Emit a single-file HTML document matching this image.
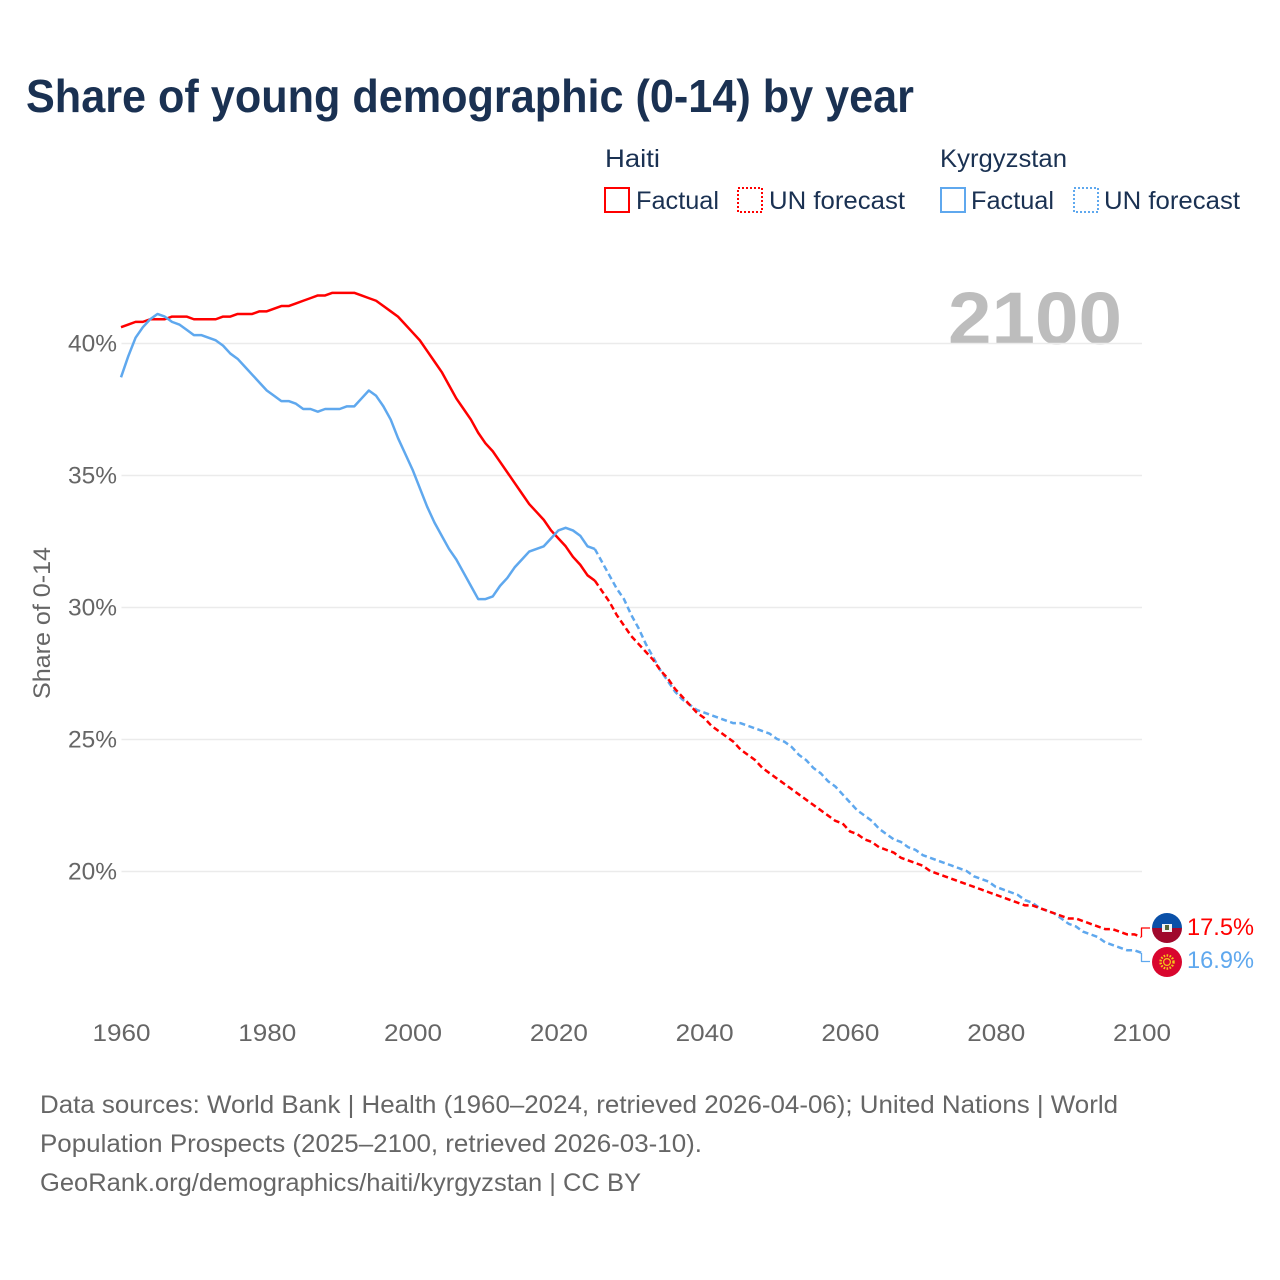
<!DOCTYPE html>
<html lang="en">
<head>
<meta charset="utf-8">
<title>Share of young demographic (0-14) by year</title>
<style>
html,body{margin:0;padding:0;background:#fff;}
svg{display:block;font-family:"Liberation Sans",Arial,sans-serif;}
</style>
</head>
<body>
<svg id="chart" xmlns="http://www.w3.org/2000/svg" width="1280" height="1280" viewBox="0 0 1280 1280">
  <rect width="1280" height="1280" fill="#ffffff"/>
  <text x="26" y="112" font-size="46" font-weight="700" fill="#1a3152" textLength="888" lengthAdjust="spacingAndGlyphs">Share of young demographic (0-14) by year</text>

  <g font-size="25" fill="#1a3152">
    <text x="605" y="167" textLength="55" lengthAdjust="spacingAndGlyphs">Haiti</text>
    <text x="940" y="167" textLength="127" lengthAdjust="spacingAndGlyphs">Kyrgyzstan</text>
    <rect x="605" y="188" width="24" height="24" fill="none" stroke="#ff0000" stroke-width="2"/>
    <text x="636" y="209" textLength="83" lengthAdjust="spacingAndGlyphs">Factual</text>
    <rect x="738" y="188" width="24" height="24" fill="none" stroke="#ff0000" stroke-width="2" stroke-dasharray="2 2"/>
    <text x="769" y="209" textLength="136" lengthAdjust="spacingAndGlyphs">UN forecast</text>
    <rect x="941" y="188" width="24" height="24" fill="none" stroke="#5fa8ee" stroke-width="2"/>
    <text x="971" y="209" textLength="83" lengthAdjust="spacingAndGlyphs">Factual</text>
    <rect x="1074" y="188" width="24" height="24" fill="none" stroke="#5fa8ee" stroke-width="2" stroke-dasharray="2 2"/>
    <text x="1104" y="209" textLength="136" lengthAdjust="spacingAndGlyphs">UN forecast</text>
  </g>

  <text x="948" y="344" font-size="74" font-weight="700" fill="#bdbdbd" textLength="174" lengthAdjust="spacingAndGlyphs">2100</text>
  <g id="grid"></g>
  <g id="yticks" font-size="24" fill="#666666"></g>
  <g id="xticks" font-size="24" fill="#666666"></g>
  <text transform="translate(50,623) rotate(-90)" text-anchor="middle" font-size="24" fill="#666666" textLength="152" lengthAdjust="spacingAndGlyphs">Share of 0-14</text>
  <g id="series" fill="none" stroke-width="2.5" stroke-linejoin="round"></g>

  <g>
    <clipPath id="clip-haiti"><circle cx="1167" cy="928" r="15"/></clipPath>
    <g clip-path="url(#clip-haiti)">
      <rect x="1152" y="913" width="30" height="15" fill="#0a50a8"/>
      <rect x="1152" y="928" width="30" height="15" fill="#a0082c"/>
      <rect x="1162" y="924" width="10" height="8" fill="#f2f2f2"/>
      <rect x="1165" y="925" width="4" height="5" fill="#55683c"/>
    </g>
  </g>
  <g>
    <circle cx="1167" cy="962" r="15" fill="#d9062e"/>
    <circle cx="1167" cy="962" r="6.5" fill="none" stroke="#f5c71a" stroke-width="2.4" stroke-dasharray="1.6 1.4"/>
    <circle cx="1167" cy="962" r="3.4" fill="none" stroke="#f5c71a" stroke-width="1.2"/>
  </g>

  <g font-size="25" fill="#666666">
    <text x="40" y="1113" textLength="1078" lengthAdjust="spacingAndGlyphs">Data sources: World Bank | Health (1960–2024, retrieved 2026-04-06); United Nations | World</text>
    <text x="40" y="1152" textLength="662" lengthAdjust="spacingAndGlyphs">Population Prospects (2025–2100, retrieved 2026-03-10).</text>
    <text x="40" y="1191" textLength="601" lengthAdjust="spacingAndGlyphs">GeoRank.org/demographics/haiti/kyrgyzstan | CC BY</text>
  </g>
</svg>
<script>
const yTickValues = [20, 25, 30, 35, 40];
const xTickValues = [1960, 1980, 2000, 2020, 2040, 2060, 2080, 2100];
const factualStartYear = 1960;
const forecastStartYear = 2025;
const haitiFactual = [40.6,40.7,40.8,40.8,40.9,40.9,40.9,41.0,41.0,41.0,40.9,40.9,40.9,40.9,41.0,41.0,41.1,41.1,41.1,41.2,41.2,41.3,41.4,41.4,41.5,41.6,41.7,41.8,41.8,41.9,41.9,41.9,41.9,41.8,41.7,41.6,41.4,41.2,41.0,40.7,40.4,40.1,39.7,39.3,38.9,38.4,37.9,37.5,37.1,36.6,36.2,35.9,35.5,35.1,34.7,34.3,33.9,33.6,33.3,32.9,32.6,32.3,31.9,31.6,31.2,31.0];
const kyrgyzFactual = [38.7,39.5,40.2,40.6,40.9,41.1,41.0,40.8,40.7,40.5,40.3,40.3,40.2,40.1,39.9,39.6,39.4,39.1,38.8,38.5,38.2,38.0,37.8,37.8,37.7,37.5,37.5,37.4,37.5,37.5,37.5,37.6,37.6,37.9,38.2,38.0,37.6,37.1,36.4,35.8,35.2,34.5,33.8,33.2,32.7,32.2,31.8,31.3,30.8,30.3,30.3,30.4,30.8,31.1,31.5,31.8,32.1,32.2,32.3,32.6,32.9,33.0,32.9,32.7,32.3,32.2];
const haitiForecast = [31.0,30.6,30.2,29.7,29.3,28.9,28.6,28.3,28.0,27.6,27.3,26.9,26.6,26.3,26.0,25.8,25.5,25.3,25.1,24.9,24.6,24.4,24.2,23.9,23.7,23.5,23.3,23.1,22.9,22.7,22.5,22.3,22.1,21.9,21.8,21.5,21.4,21.2,21.1,20.9,20.8,20.7,20.5,20.4,20.3,20.2,20.0,19.9,19.8,19.7,19.6,19.5,19.4,19.3,19.2,19.1,19.0,18.9,18.8,18.7,18.7,18.6,18.5,18.4,18.3,18.2,18.2,18.1,18.0,17.9,17.8,17.8,17.7,17.6,17.6,17.5];
const kyrgyzForecast = [32.2,31.7,31.2,30.7,30.3,29.7,29.2,28.6,28.1,27.6,27.2,26.8,26.5,26.3,26.1,26.0,25.9,25.8,25.7,25.6,25.6,25.5,25.4,25.3,25.2,25.0,24.9,24.7,24.4,24.2,23.9,23.7,23.4,23.2,22.9,22.6,22.3,22.1,21.9,21.6,21.4,21.2,21.1,20.9,20.8,20.6,20.5,20.4,20.3,20.2,20.1,20.0,19.8,19.7,19.6,19.4,19.3,19.2,19.1,18.9,18.8,18.6,18.5,18.4,18.2,18.0,17.9,17.7,17.6,17.5,17.3,17.2,17.1,17.0,17.0,16.9];

const NS = 'http://www.w3.org/2000/svg';
const RED = '#ff0000';
const BLUE = '#5fa8ee';
function xScale(year) { return 121 + (year - 1960) * (1141.5 - 121) / 140; }
function yScale(v) { return 871 - (v - 20) * 26.4; }
function make(tag, attrs, parent) {
  const el = document.createElementNS(NS, tag);
  for (const k in attrs) el.setAttribute(k, attrs[k]);
  parent.appendChild(el);
  return el;
}
function pathFor(values, startYear) {
  return values.map(function (v, i) {
    return (i ? 'L' : 'M') + xScale(startYear + i).toFixed(2) + ' ' + yScale(v).toFixed(2);
  }).join('');
}

const gridG = document.getElementById('grid');
const yG = document.getElementById('yticks');
const xG = document.getElementById('xticks');
const seriesG = document.getElementById('series');

yTickValues.forEach(function (v) {
  const gy = yScale(v) + 0.5;
  const line = make('line', {x1: 121.5, x2: 1142, y1: gy, y2: gy, stroke: '#ebebeb', 'stroke-width': 1.5}, gridG);
  
  
  const label = make('text', {x: 117, y: gy + 8, 'text-anchor': 'end', textLength: 49, lengthAdjust: 'spacingAndGlyphs'}, yG);
  
  
  label.textContent = v + '%';
});

xTickValues.forEach(function (year) {
  const label = make('text', {x: xScale(year) + 0.5, y: 1041, 'text-anchor': 'middle', textLength: 58, lengthAdjust: 'spacingAndGlyphs'}, xG);
  
  
  label.textContent = year;
});

const haitiFactualLine = make('path', {d: pathFor(haitiFactual, factualStartYear), stroke: RED}, seriesG);



const kyrgyzFactualLine = make('path', {d: pathFor(kyrgyzFactual, factualStartYear), stroke: BLUE}, seriesG);



const kyrgyzForecastLine = make('path', {d: pathFor(kyrgyzForecast, forecastStartYear), stroke: BLUE, 'stroke-dasharray': '6 3.5'}, seriesG);



const haitiForecastLine = make('path', {d: pathFor(haitiForecast, forecastStartYear), stroke: RED, 'stroke-dasharray': '6 3.5'}, seriesG);



function endLabel(values, color, labelY, connectorY) {
  const last = values[values.length - 1];
  const endX = xScale(2100);
  const connector = make('path', {
    d: 'M' + endX + ' ' + yScale(last) + 'L' + endX + ' ' + connectorY + 'L1150 ' + connectorY,
    stroke: color, 'stroke-width': 1.3, fill: 'none'
  }, seriesG);
  
  
  const text = make('text', {x: 1187, y: labelY, fill: color, stroke: 'none', 'font-size': 24, textLength: 67, lengthAdjust: 'spacingAndGlyphs'}, document.getElementById('chart'));
  
  
  text.textContent = last.toFixed(1) + '%';
}
endLabel(haitiForecast, RED, 935, 928);
endLabel(kyrgyzForecast, BLUE, 968, 961.5);
</script>
</body>
</html>
